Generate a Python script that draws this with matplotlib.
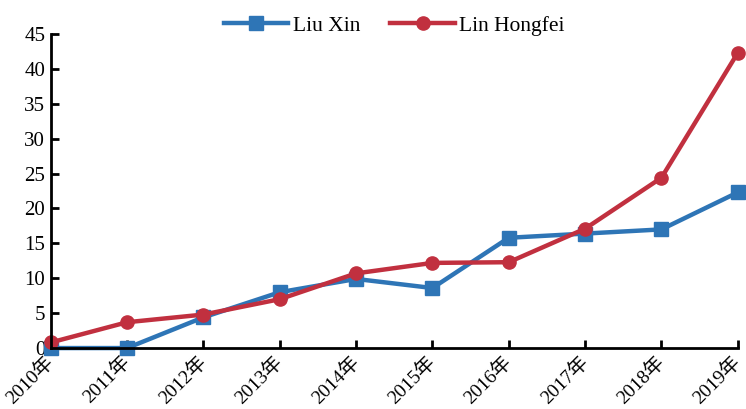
import numpy as np
import matplotlib.pyplot as plt

plt.rcParams['font.family'] = ['Liberation Serif', 'Noto Sans CJK SC']

years = ["2010年", "2011年", "2012年", "2013年", "2014年",
         "2015年", "2016年", "2017年", "2018年", "2019年"]
liu_xin = [0, 0, 4.4, 8.0, 9.9, 8.6, 15.8, 16.4, 17.0, 22.3]
lin_hongfei = [0.8, 3.7, 4.8, 7.0, 10.7, 12.2, 12.3, 17.1, 24.4, 42.3]

fig = plt.figure(figsize=(7.46, 4.09), dpi=100)
ax = fig.add_axes([0.068, 0.149, 0.921, 0.768])

x = np.arange(len(years))
ax.plot(x, liu_xin, color="#2e75b6", lw=3.2, marker="s", ms=9.5, label="Liu Xin", clip_on=False)
ax.plot(x, lin_hongfei, color="#c1303f", lw=3.2, marker="o", ms=9.5, label="Lin Hongfei", clip_on=False)

ax.set_xlim(0, 9)
ax.set_ylim(0, 45)
ax.set_yticks(range(0, 46, 5))
ax.set_xticks(x)
ax.set_xticklabels(years, rotation=45, ha="right", va="center", rotation_mode="anchor")
ax.tick_params(direction="in", length=6, width=2, labelsize=15, color="black")
ax.tick_params(axis="x", pad=8, labelsize=14)
ax.tick_params(axis="y", pad=4)

for s in ["top", "right"]:
    ax.spines[s].set_visible(False)
for s in ["left", "bottom"]:
    ax.spines[s].set_linewidth(2)

ax.legend(loc="upper center", bbox_to_anchor=(0.5, 1.12), ncol=2, frameon=False,
          fontsize=15.5, handlelength=3.0, handletextpad=0.2, columnspacing=1.4)

fig.savefig("out.png")
